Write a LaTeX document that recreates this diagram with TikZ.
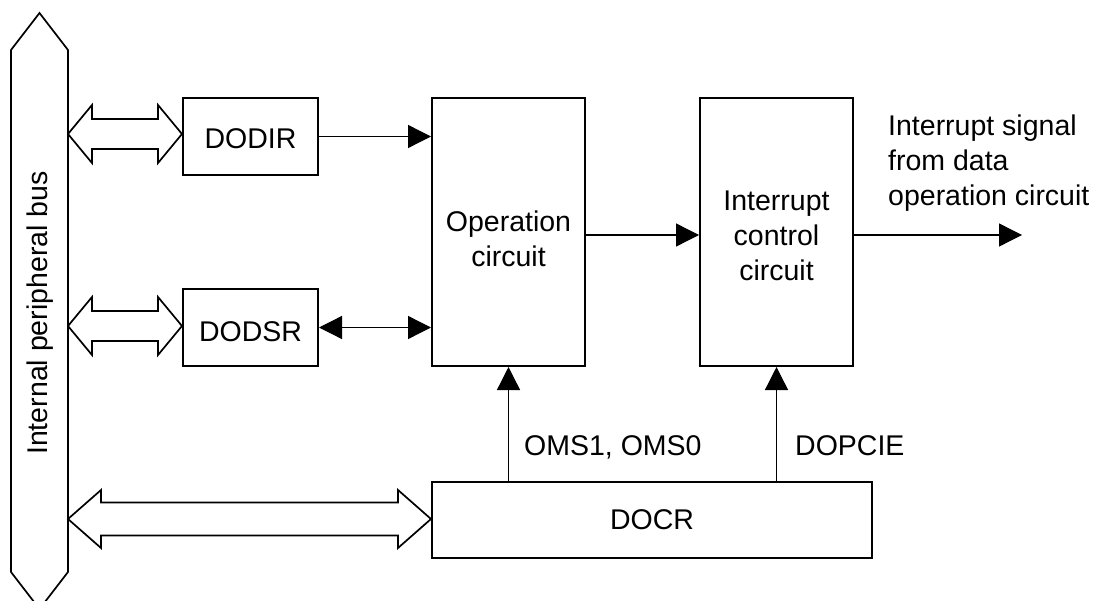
\documentclass[tikz,border=0pt]{standalone}
\usepackage{fontspec}
\setmainfont{Liberation Sans}
\usetikzlibrary{arrows.meta,calc}
\newcommand\blockarrow[5]{%
  \path[bigarrow] let \p1=(#1), \p2=(#2) in
    (\x1,\y1) -- (\x1+#3pt,\y1+#5pt) -- (\x1+#3pt,\y1+#4pt) -- (\x2-#3pt,\y1+#4pt)
    -- (\x2-#3pt,\y1+#5pt) -- (\x2,\y1) -- (\x2-#3pt,\y1-#5pt) -- (\x2-#3pt,\y1-#4pt)
    -- (\x1+#3pt,\y1-#4pt) -- (\x1+#3pt,\y1-#5pt) -- cycle;}
\begin{document}
\begin{tikzpicture}[x=1pt,y=-1pt,
  box/.style={draw, line width=2pt, inner sep=0pt},
  lbl/.style={inner sep=0pt, font=\fontsize{28.5}{35}\selectfont},
  inlbl/.style={lbl, align=center},
  conn/.style={line width=1.3pt, -{Triangle[length=23pt,width=23pt]}},
  bigarrow/.style={draw, line width=1.7pt, line join=miter, fill=white}]
\useasboundingbox (0,0) rectangle (1099,601);
\clip (0,0) rectangle (1099,601);

% bus
\draw[bigarrow] (39.5,13) -- (68,50) -- (68,572) -- (39.5,609) -- (11,572) -- (11,50) -- cycle;
\node[lbl, rotate=90] (buslbl) at (40,313) {Internal peripheral bus};
\coordinate (b1) at (68,134);
\coordinate (b2) at (68,326);
\coordinate (b3) at (68,519);

% boxes
\node[box, minimum width=135, minimum height=77,
  label={[inlbl, yshift=-2pt]center:DODIR}] (dodir) at (250.5,136.5) {};
\node[box, minimum width=135, minimum height=77,
  label={[inlbl, yshift=-4pt]center:DODSR}] (dodsr) at (250.5,327.5) {};
\node[box, minimum width=153, minimum height=268,
  label={[inlbl, yshift=-7pt]center:Operation\\circuit}] (op) at (508.5,232) {};
\node[box, minimum width=153, minimum height=268,
  label={[inlbl, yshift=-4pt]center:Interrupt\\control\\circuit}] (int) at (776.5,232) {};
\node[box, minimum width=440, minimum height=76,
  label={[inlbl]center:DOCR}] (docr) at (652,520) {};

% block arrows
\blockarrow{b1}{dodir.west |- b1}{24}{15}{29}
\blockarrow{b2}{dodsr.west |- b2}{24}{15}{29}
\blockarrow{b3}{docr.west |- b3}{33}{16.5}{29}

% connectors
\draw[conn] (dodir.east) -- (dodir.east -| op.west);
\draw[line width=1.3pt, {Triangle[length=23pt,width=23pt]}-{Triangle[length=23pt,width=23pt]}] (dodsr.east) -- (dodsr.east -| op.west);
\draw[conn] ($(op.east)+(0,3)$) -- ($(int.west)+(0,3)$);
\coordinate (out) at (1022,235);
\draw[conn] ($(int.east)+(0,3)$) -- (out);
\draw[conn] (docr.north -| op.south) -- (op.south);
\draw[conn] (docr.north -| int.south) -- (int.south);

% labels
\node[lbl, anchor=base west] (oms) at (524,455) {OMS1, OMS0};
\node[lbl, anchor=base west] (dopcie) at (795,455) {DOPCIE};
\node[lbl, anchor=north west, align=left] (outlbl) at (888,114.6) {Interrupt signal\\from data\\operation circuit};
\end{tikzpicture}
\end{document}
